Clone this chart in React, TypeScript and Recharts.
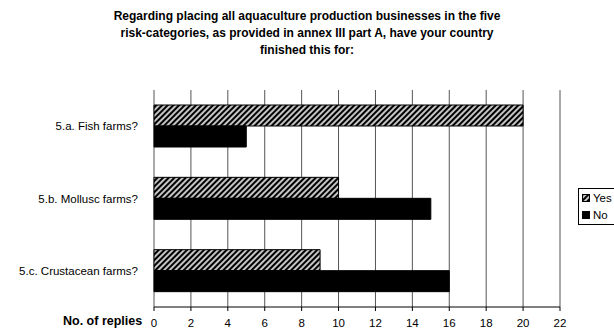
import { BarChart, Bar, XAxis, YAxis, CartesianGrid } from 'recharts';

const questions = ['5.a. Fish farms?', '5.b. Mollusc farms?', '5.c. Crustacean farms?'];
const yesReplies = [20, 10, 9];
const noReplies = [5, 15, 16];
const replyTicks = [0, 2, 4, 6, 8, 10, 12, 14, 16, 18, 20, 22];
const boundaryTicks = [0, 1, 2, 3];

const titleLines = [
  'Regarding placing all aquaculture production businesses in the five',
  'risk-categories, as provided in annex III part A, have your country',
  'finished this for:',
];

const data = questions.map((q, i) => ({ name: q, yes: yesReplies[i], no: noReplies[i] }));

const FONT = 'Arial, "Liberation Sans", sans-serif';

function LegendBox() {
  const items = [
    { label: 'Yes', fill: 'url(#hatch)' },
    { label: 'No', fill: '#000' },
  ];
  return (
    <div
      style={{
        position: 'absolute',
        left: 578,
        top: 188,
        border: '1px solid #000',
        padding: '0px 4px 1px 3px',
        background: '#fff',
        fontFamily: FONT,
        fontSize: 11.5,
        width: 60,
      }}
    >
      {items.map((it) => (
        <div key={it.label} style={{ display: 'flex', alignItems: 'center', height: 17 }}>
          <svg width={8} height={8} style={{ marginRight: 3 }}>
            <rect x={0.5} y={0.5} width={7} height={7} fill={it.fill} stroke="#000" />
          </svg>
          <span>{it.label}</span>
        </div>
      ))}
    </div>
  );
}

export default function App() {
  return (
    <div style={{ position: 'relative', width: 614, height: 331, overflow: 'hidden', background: '#fff' }}>
      <style>{'body{margin:0}'}</style>
      <div
        style={{
          position: 'absolute',
          top: 8,
          left: 0,
          width: 614,
          textAlign: 'center',
          fontFamily: FONT,
          fontWeight: 'bold',
          fontSize: 12,
          lineHeight: '17px',
        }}
      >
        {titleLines.map((t) => (
          <div key={t}>{t}</div>
        ))}
      </div>
      <div
        style={{
          position: 'absolute',
          left: 63,
          top: 314,
          fontFamily: FONT,
          fontWeight: 'bold',
          fontSize: 12.5,
        }}
      >
        No. of replies
      </div>
      <BarChart
        width={614}
        height={331}
        data={data}
        layout="vertical"
        margin={{ top: 90, right: 54, bottom: 0, left: 0 }}
        barGap={0}
        barSize={21}
      >
        <defs>
          <pattern id="hatch" width={4} height={4} patternUnits="userSpaceOnUse" patternTransform="rotate(45)">
            <rect x={0} y={0} width={4} height={4} fill="#c4c4c4" />
            <rect x={0} y={0} width={2} height={4} fill="#000" />
          </pattern>
        </defs>
        <CartesianGrid horizontal={false} stroke="#555" />
        <XAxis
          type="number"
          domain={[0, 22]}
          ticks={replyTicks}
          interval={0}
          height={24}
          tickSize={4}
          tickMargin={8}
          stroke="#000"
          tick={{ fill: '#000', fontSize: 11.5, fontFamily: FONT }}
        />
        <XAxis
          xAxisId="top"
          orientation="top"
          type="number"
          domain={[0, 22]}
          height={0}
          tick={false}
          tickLine={false}
          stroke="#808080"
        />
        <YAxis
          yAxisId="bounds"
          type="number"
          domain={[0, 3]}
          ticks={boundaryTicks}
          width={0}
          tickSize={4}
          tickFormatter={() => ''}
          stroke="#000"
        />
        <YAxis
          type="category"
          dataKey="name"
          width={154}
          axisLine={false}
          tickLine={false}
          tickMargin={10}
          tick={{ fill: '#000', fontSize: 11.5, fontFamily: FONT }}
        />
        <Bar dataKey="yes" name="Yes" fill="url(#hatch)" stroke="#000" strokeWidth={1} isAnimationActive={false} />
        <Bar dataKey="no" name="No" fill="#000" stroke="#000" strokeWidth={1} isAnimationActive={false} />
      </BarChart>
      <LegendBox />
    </div>
  );
}
